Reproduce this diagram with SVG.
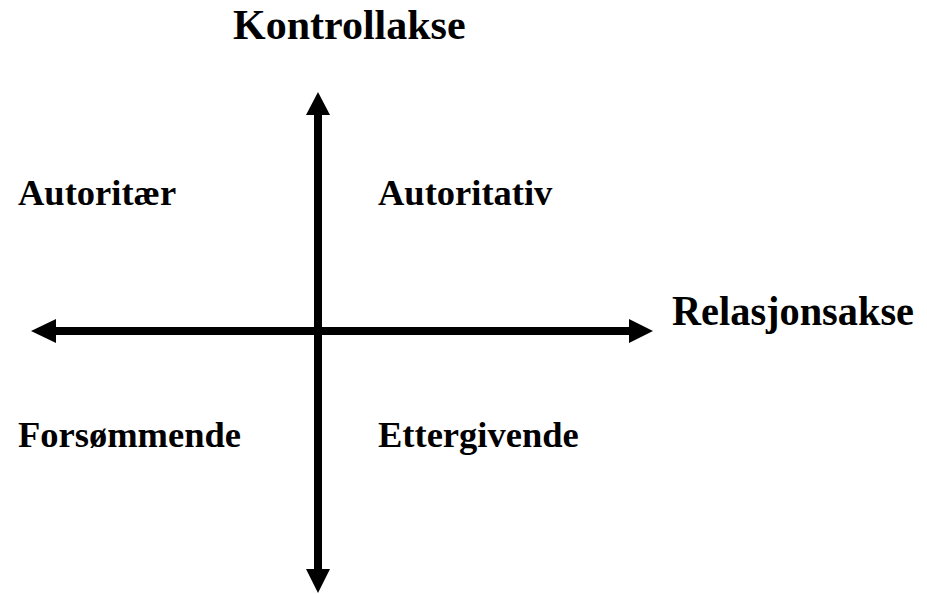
<svg xmlns="http://www.w3.org/2000/svg" width="927" height="594" viewBox="0 0 927 594">
<style>
text{font-family:"Liberation Serif","Times New Roman",serif;font-weight:bold;fill:#000}
.ax{font-size:42px}
.q{font-size:36.5px}
.line{stroke:#000;stroke-width:8;fill:none}
.head{fill:#000}
</style>
<rect width="927" height="594" fill="#fff"/>
<g id="connectors">
<line class="line" x1="318" y1="112" x2="318" y2="572"/>
<polygon class="head" points="318,92 306,115 330,115"/>
<polygon class="head" points="318,593 306,569 330,569"/>
<line class="line" x1="52" y1="331" x2="633" y2="331"/>
<polygon class="head" points="31,331 56,319 56,343"/>
<polygon class="head" points="653,331 629,319 629,343"/>
</g>
<g id="kontrollakse"><text class="ax" x="233" y="39">Kontrollakse</text></g>
<g id="relasjonsakse"><text class="ax" x="672" y="325" textLength="242" lengthAdjust="spacingAndGlyphs">Relasjonsakse</text></g>
<g id="autoritaer"><text class="q" x="18" y="205">Autoritær</text></g>
<g id="autoritativ"><text class="q" x="378" y="205">Autoritativ</text></g>
<g id="forsommende"><text class="q" x="18" y="447">Forsømmende</text></g>
<g id="ettergivende"><text class="q" x="378" y="447">Ettergivende</text></g>
</svg>
